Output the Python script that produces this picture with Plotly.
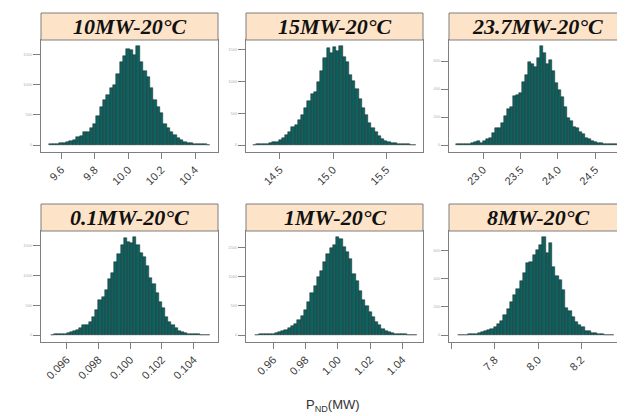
import plotly.graph_objects as go

# ---------------- data ----------------
titles = ["10MW-20°C", "15MW-20°C", "23.7MW-20°C", "0.1MW-20°C", "1MW-20°C", "8MW-20°C"]

bin_start = [9.53, 14.25, 22.64, 0.0950, 0.949, 7.63]
bin_width = [0.02, 0.03, 0.04, 0.0002, 0.002, 0.015]

counts_10mw = [10, 15, 20, 30, 40, 50, 65, 80, 125, 150, 210, 220, 275, 350, 475, 625, 750, 840, 950, 1000,
               1175, 1375, 1475, 1600, 1575, 1500, 1650, 1375, 1225, 1125, 950, 750, 625, 525, 350, 275, 210,
               160, 115, 80, 55, 40, 30, 20, 15, 10, 10, 5]
counts_15mw = [5, 10, 15, 15, 20, 25, 45, 55, 80, 110, 150, 200, 290, 310, 390, 475, 575, 690, 810, 840, 1000,
               1160, 1375, 1525, 1450, 1550, 1475, 1560, 1390, 1300, 1100, 1015, 875, 725, 590, 475, 350, 275,
               200, 140, 100, 70, 50, 35, 25, 20, 15, 10, 10, 5, 5]
counts_23_7mw = [4, 6, 6, 8, 10, 14, 18, 26, 16, 30, 40, 50, 84, 120, 124, 160, 210, 260, 270, 350, 356, 370,
                 450, 500, 590, 580, 560, 620, 708, 660, 580, 610, 530, 440, 390, 340, 270, 190, 170, 132, 120,
                 90, 76, 50, 40, 30, 20, 16, 14, 8, 6, 6, 4, 4]
counts_0_1mw = [5, 10, 10, 15, 25, 35, 50, 65, 90, 110, 175, 165, 220, 300, 415, 585, 640, 750, 930, 1040,
                1225, 1350, 1500, 1620, 1550, 1540, 1640, 1500, 1375, 1300, 1150, 960, 860, 700, 550, 450, 310,
                220, 165, 110, 70, 45, 30, 20, 15, 10, 10, 5, 5, 5]
counts_1mw = [5, 10, 10, 15, 20, 25, 35, 50, 70, 95, 125, 155, 195, 255, 325, 430, 570, 725, 850, 990, 1100,
              1250, 1390, 1500, 1550, 1685, 1650, 1510, 1425, 1300, 1050, 925, 750, 600, 500, 400, 310, 225,
              165, 110, 75, 50, 35, 20, 15, 10, 10, 5, 5, 5]
counts_8mw = [2, 4, 4, 6, 8, 10, 16, 22, 30, 38, 44, 56, 76, 100, 140, 186, 236, 284, 324, 386, 442, 510, 520,
              570, 600, 640, 696, 580, 650, 480, 420, 390, 320, 190, 170, 130, 90, 70, 60, 32, 26, 18, 12, 8,
              6, 4, 4, 2]
all_counts = [counts_10mw, counts_15mw, counts_23_7mw, counts_0_1mw, counts_1mw, counts_8mw]

x_ranges = [[9.48, 10.537], [14.184, 15.844], [22.545, 24.91],
            [0.09439, 0.10553], [0.94325, 1.0527], [7.588, 8.407]]
x_tickvals = [[9.6, 9.8, 10.0, 10.2, 10.4], [14.5, 15.0, 15.5], [23.0, 23.5, 24.0, 24.5],
              [0.096, 0.098, 0.100, 0.102, 0.104], [0.96, 0.98, 1.00, 1.02, 1.04], [7.8, 8.0, 8.2]]
x_ticktext = [["9.6", "9.8", "10.0", "10.2", "10.4"], ["14.5", "15.0", "15.5"], ["23.0", "23.5", "24.0", "24.5"],
              ["0.096", "0.098", "0.100", "0.102", "0.104"], ["0.96", "0.98", "1.00", "1.02", "1.04"],
              ["7.8", "8.0", "8.2"]]
x_unlabeled_ticks = [[], [], [], [], [], [7.6, 8.4]]
y_dtick = [500, 500, 200, 500, 500, 200]

x_label = "P<sub>ND</sub>(MW)"

# ---------------- layout ----------------
W, H = 625, 416
col_px = [(33, 210), (238, 415), (441, 618)]
row_px = [(32, 144), (223, 334)]
strip_px = [(5, 32), (196, 223)]

bar_color = "#0e625f"
edge_color = "#1b2a2a"
frame_color = "#7f7f7f"
strip_fill = "#fde3c8"

fig = go.Figure()
layout = dict(
    width=W, height=H, margin=dict(l=0, r=0, t=0, b=0),
    paper_bgcolor="white", plot_bgcolor="white", showlegend=False,
    bargap=0, shapes=[], annotations=[],
)

for k in range(6):
    r, c = divmod(k, 3)
    n = str(k + 1) if k > 0 else ""
    start, w = bin_start[k], bin_width[k]
    cnt = all_counts[k]
    centers = [start + w * (i + 0.5) for i in range(len(cnt))]
    M = max(cnt)
    fig.add_trace(go.Bar(
        x=centers, y=cnt, width=w, xaxis="x" + n, yaxis="y" + n,
        marker=dict(color=bar_color, line=dict(color=edge_color, width=0.5)),
        hoverinfo="skip",
    ))
    x0, x1 = col_px[c]
    y0, y1 = row_px[r]
    xa = dict(
        domain=[x0 / W, x1 / W], anchor="y" + n, range=x_ranges[k],
        tickmode="array", tickvals=x_tickvals[k], ticktext=x_ticktext[k],
        tickangle=-45, ticks="outside", ticklen=6, tickcolor=frame_color,
        showline=True, mirror=True, linecolor=frame_color, linewidth=1,
        showgrid=False, zeroline=False,
        tickfont=dict(family="Liberation Sans, Arial", size=11, color="#3a3a3a"),
    )
    if x_unlabeled_ticks[k]:
        xa["minor"] = dict(tickmode="array", tickvals=x_unlabeled_ticks[k], ticks="outside",
                           ticklen=6, tickcolor=frame_color, showgrid=False)
    layout["xaxis" + n] = xa
    layout["yaxis" + n] = dict(
        domain=[1 - y1 / H, 1 - y0 / H], anchor="x" + n,
        range=[-0.0707 * M, 1.06 * M], dtick=y_dtick[k], tick0=0,
        ticks="outside", ticklen=7, tickcolor=frame_color,
        showline=True, mirror=True, linecolor=frame_color, linewidth=1,
        showgrid=False, zeroline=False,
        tickfont=dict(family="Liberation Sans, Arial", size=4, color="#b0b0b0"),
    )
    s0, s1 = strip_px[r]
    layout["shapes"].append(dict(
        type="rect", xref="paper", yref="paper",
        x0=x0 / W, x1=x1 / W, y0=1 - s1 / H, y1=1 - s0 / H,
        fillcolor=strip_fill, line=dict(color=frame_color, width=1), layer="above",
    ))
    layout["annotations"].append(dict(
        xref="paper", yref="paper", x=(x0 + x1) / 2 / W, y=1 - (s0 + s1) / 2 / H,
        text="<b><i>" + titles[k] + "</i></b>", showarrow=False,
        xanchor="center", yanchor="middle",
        font=dict(family="Liberation Serif, Times New Roman", size=22, color="#111111"),
    ))

layout["annotations"].append(dict(
    xref="paper", yref="paper", x=325 / W, y=1 - 397 / H, text=x_label, showarrow=False,
    xanchor="center", yanchor="middle",
    font=dict(family="Liberation Sans, Arial", size=13, color="#333333"),
))

fig.update_layout(**layout)
fig.write_html("out.html")
